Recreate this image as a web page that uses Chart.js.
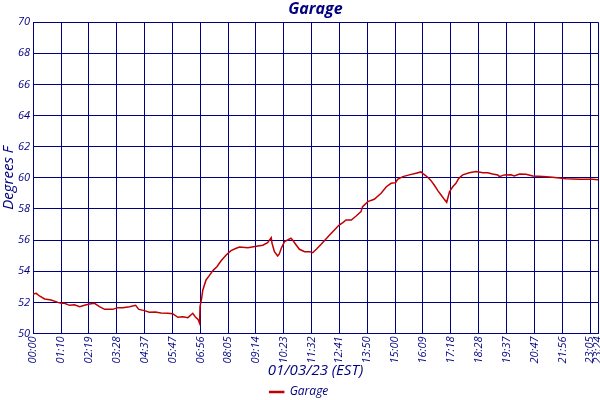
<!DOCTYPE html>
<html>
<head>
<meta charset="utf-8">
<title>Garage</title>
<script src="https://cdn.jsdelivr.net/npm/chart.js@4.4.1/dist/chart.umd.min.js"></script>
<style>
    html, body { margin: 0; padding: 0; background: #fff; }
    canvas { display: block; }
</style>
</head>
<body>
<canvas id="chartTemp" width="600" height="400"></canvas>
<script>
// minutos desde 00:00 e temperatura
const minutes = [0, 8, 16, 29, 45, 62, 70, 78, 91, 103, 116, 128, 140, 153, 165, 178, 198, 211, 223, 240,
    255, 263, 277, 289, 304, 318, 335, 347, 360, 372, 385, 397, 403, 410, 414, 415, 419, 422, 430, 438,
    447, 457, 467, 480, 492, 505, 513, 534, 555, 571, 583, 592, 594, 600, 608, 612, 617, 625, 633, 641,
    645, 654, 662, 675, 687, 695, 704, 716, 724, 737, 749, 760, 770, 778, 791, 803, 815, 819, 832, 848,
    865, 878, 890, 901, 906, 919, 935, 952, 964, 970, 981, 989, 997, 1006, 1014, 1022, 1028, 1035, 1043, 1051,
    1058, 1068, 1084, 1101, 1118, 1130, 1142, 1155, 1159, 1171, 1188, 1196, 1209, 1225, 1242, 1267, 1291, 1325, 1358, 1391,
    1404];
const tempsF = [52.54, 52.58, 52.41, 52.22, 52.15, 52.00, 51.94, 51.94, 51.81, 51.85, 51.72, 51.81, 51.90, 51.94, 51.72, 51.55, 51.55, 51.66, 51.66, 51.72,
    51.81, 51.55, 51.47, 51.36, 51.38, 51.32, 51.30, 51.27, 51.04, 51.08, 51.02, 51.30, 51.08, 50.91, 50.65, 51.72, 52.26, 52.80, 53.44, 53.72,
    54.04, 54.29, 54.66, 55.04, 55.32, 55.48, 55.56, 55.51, 55.60, 55.67, 55.84, 56.16, 55.80, 55.26, 54.98, 55.11, 55.48, 55.90, 56.01, 56.12,
    56.01, 55.69, 55.41, 55.26, 55.26, 55.19, 55.41, 55.73, 55.96, 56.33, 56.65, 56.95, 57.12, 57.29, 57.29, 57.55, 57.83, 58.15, 58.47, 58.62,
    59.01, 59.43, 59.65, 59.69, 59.91, 60.08, 60.19, 60.30, 60.38, 60.25, 60.04, 59.82, 59.54, 59.18, 58.90, 58.62, 58.43, 59.11, 59.43, 59.65,
    59.97, 60.19, 60.33, 60.40, 60.33, 60.33, 60.25, 60.19, 60.08, 60.19, 60.20, 60.12, 60.25, 60.23, 60.12, 60.08, 60.04, 59.95, 59.91, 59.91,
    59.87];

// rótulos do eixo x
const tickLabels = ["00:00", "01:10", "02:19", "03:28", "04:37", "05:47", "06:56", "08:05", "09:14", "10:23", "11:32",
    "12:41", "13:50", "15:00", "16:09", "17:18", "18:28", "19:37", "20:47", "21:56", "23:05", "23:24"];
const tickMinutes = tickLabels.map(t => {
    const [h, m] = t.split(":").map(Number);
    return h * 60 + m;
});

const navy = "#000080";
const fam = "'Open Sans', 'DejaVu Sans', sans-serif";

const ctx = document.getElementById("chartTemp").getContext("2d");
new Chart(ctx, {
    type: "line",
    data: {
        datasets: [{
            label: "Garage",
            data: minutes.map((m, i) => ({ x: m, y: tempsF[i] })),
            borderColor: "#c00000",
            backgroundColor: "#c00000",
            borderWidth: 1.5,
            pointRadius: 0,
            tension: 0
        }]
    },
    options: {
        responsive: false,
        animation: false,
        layout: { padding: { left: 0, right: 2, top: 0, bottom: -8 } },
        plugins: {
            title: {
                display: true,
                fullSize: false, // centraliza sobre a área do gráfico
                text: "Garage",
                color: navy,
                font: { family: fam, size: 16, weight: "bold", style: "italic" },
                padding: { top: 0, bottom: 3 }
            },
            legend: {
                position: "bottom",
                labels: {
                    color: navy,
                    font: { family: fam, size: 12, style: "italic" },
                    boxWidth: 14,
                    boxHeight: 1,
                    padding: 4
                }
            },
            tooltip: { enabled: false }
        },
        scales: {
            x: {
                type: "linear",
                min: 0,
                max: tickMinutes[tickMinutes.length - 1],
                afterBuildTicks: s => { s.ticks = tickMinutes.map(v => ({ value: v })); },
                afterFit: s => { s.height = 48.5; s.paddingLeft = 0; s.paddingRight = 0; },
                ticks: {
                    autoSkip: false,
                    minRotation: 90,
                    maxRotation: 90,
                    padding: 3,
                    color: navy,
                    font: { family: fam, size: 11, style: "italic" },
                    callback: (v, i) => tickLabels[i]
                },
                grid: { color: navy, lineWidth: 1, drawTicks: false },
                border: { color: navy, width: 1 },
                title: {
                    display: true,
                    text: "01/03/23 (EST)",
                    color: navy,
                    font: { family: fam, size: 15, style: "italic" },
                    padding: { top: 0, bottom: 2 }
                }
            },
            y: {
                min: 50,
                max: 70,
                afterFit: s => { s.width = 33; },
                ticks: {
                    stepSize: 2,
                    padding: 3,
                    color: navy,
                    font: { family: fam, size: 11, style: "italic" }
                },
                grid: { color: navy, lineWidth: 1, drawTicks: false },
                border: { color: navy, width: 1 },
                title: {
                    display: true,
                    text: "Degrees F",
                    color: navy,
                    font: { family: fam, size: 15, style: "italic" },
                    padding: { top: 0, bottom: 0 }
                }
            }
        }
    }
});
</script>
</body>
</html>
